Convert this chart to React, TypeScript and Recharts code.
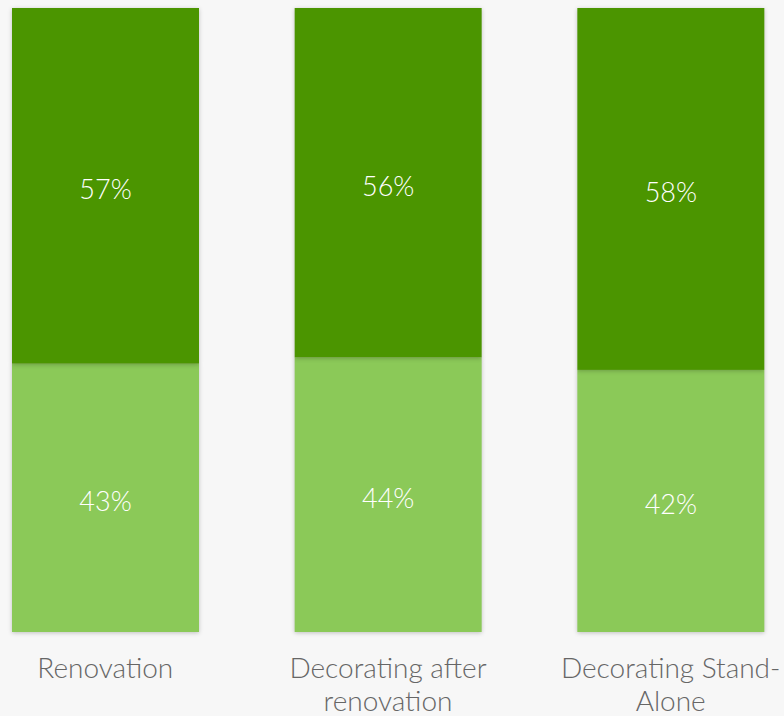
import { BarChart, Bar, XAxis, YAxis, LabelList } from 'recharts';

const categories = ['Renovation', 'Decorating after renovation', 'Decorating Stand-Alone'];
const lowerShare = [43, 44, 42];
const upperShare = [57, 56, 58];

const data = categories.map((name, i) => ({ name, lower: lowerShare[i], upper: upperShare[i] }));

const FONT = "Lato, 'Open Sans', sans-serif";

function wrap(text: string, max = 17) {
  const parts = text.split(/(?<=-)|\s+/).filter(Boolean);
  const lines: string[] = [];
  let cur = '';
  parts.forEach((p) => {
    const joined = cur ? (cur.endsWith('-') ? cur + p : cur + ' ' + p) : p;
    if (joined.length > max && cur) {
      lines.push(cur);
      cur = p;
    } else {
      cur = joined;
    }
  });
  if (cur) lines.push(cur);
  return lines;
}

function CategoryTick({ x, y, payload }: any) {
  const lines = wrap(payload.value);
  return (
    <text x={x} y={y} textAnchor="middle" fill="#666" fontSize={28} fontWeight={300} fontFamily={FONT}>
      {lines.map((l, i) => (
        <tspan key={i} x={x} dy={i === 0 ? 38 : 33}>{l}</tspan>
      ))}
    </text>
  );
}

function ShadowRect(props: any) {
  const { x, y, width, height, fill } = props;
  return <rect x={x} y={y} width={width} height={height} fill={fill} style={{ filter: 'drop-shadow(0 1px 2px rgba(0,0,0,0.22))' }} />;
}

function PctLabel(props: any) {
  const { x, y, width, height, value } = props;
  return (
    <text x={x + width / 2} y={y + height / 2 + 4} dy="0.35em" textAnchor="middle" fill="#fff" fontSize={27} fontWeight={300} fontFamily={FONT}>
      {`${value}%`}
    </text>
  );
}

export default function App() {
  return (
    <div style={{ position: 'fixed', left: 0, top: 0, width: 784, height: 716, background: '#f7f7f7', overflow: 'hidden' }}>
      <div style={{ position: 'absolute', left: -36, top: 0 }}>
        <BarChart width={848} height={716} data={data} margin={{ top: 8, right: 0, bottom: 0, left: 0 }} barCategoryGap={48}>
          <XAxis dataKey="name" axisLine={false} tickLine={false} height={84} tick={<CategoryTick />} interval={0} />
          <YAxis hide domain={[0, 100]} />
          <Bar dataKey="lower" stackId="a" fill="#8bc958" isAnimationActive={false} shape={<ShadowRect />}>
            <LabelList dataKey="lower" content={<PctLabel />} />
          </Bar>
          <Bar dataKey="upper" stackId="a" fill="#4b9500" isAnimationActive={false} shape={<ShadowRect />}>
            <LabelList dataKey="upper" content={<PctLabel />} />
          </Bar>
        </BarChart>
      </div>
    </div>
  );
}
